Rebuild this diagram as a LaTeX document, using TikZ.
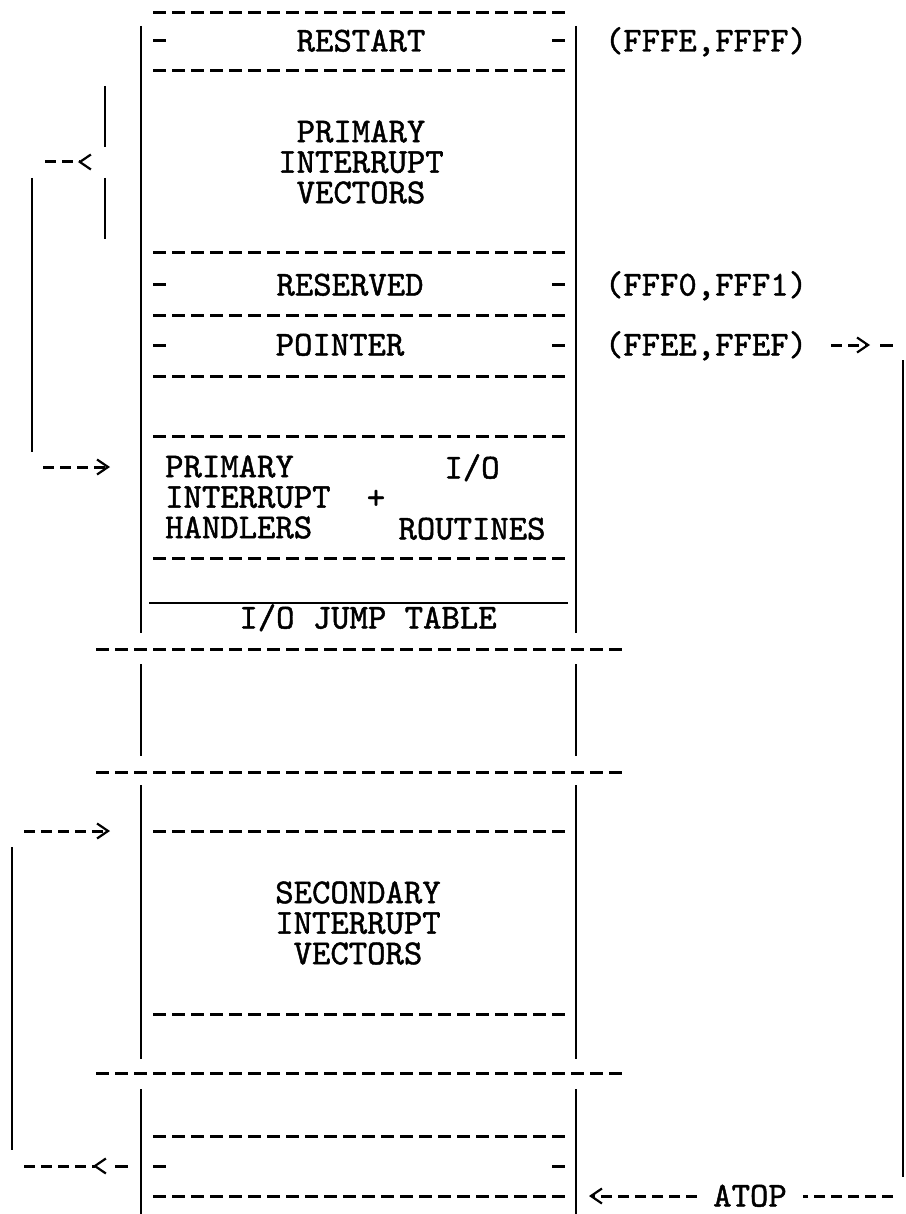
\documentclass[tikz,border=0pt]{standalone}
\usepackage{fontspec}
\setmonofont{lmmono10-regular.otf}[FakeBold=1.3]
\usetikzlibrary{arrows.meta, positioning}
\newcommand{\mapfont}{\fontsize{35}{30.5}\selectfont\ttfamily}

\begin{document}
\begin{tikzpicture}[
  x=1pt, y=-1pt,
  lbl/.style={font=\mapfont, inner sep=0pt, text height=21pt, text depth=0pt},
  blk/.style={font=\mapfont, inner sep=0pt, align=center},
  sep/.style={line width=3pt, dash pattern=on 13pt off 6pt},
  bar/.style={line width=2pt},
  conn/.style={line width=3pt, dash pattern=on 11pt off 6pt},
  fwd/.style={-{Straight Barb[length=11pt, width=15pt, line width=2.2pt]}},
  bwd/.style={-{Straight Barb[reversed, length=11pt, width=15pt, line width=2.2pt]}}
]
\useasboundingbox (0,0) rectangle (905,1214);

% walls of the map
\foreach \a/\b in {26/633, 664/756, 785/1059, 1089/1214} {
  \draw[bar] (141,\a) -- (141,\b);
  \draw[bar] (576,\a) -- (576,\b);
}
% rows
\foreach \y in {13,71,253,315,376,436,558,831,1014,1136,1196}
  \draw[sep] (153,\y) -- (566,\y);
\foreach \y in {649,772,1073}
  \draw[sep] (96,\y) -- (622,\y);
\foreach \y in {41,285,345,1166} {
  \draw[sep] (153,\y) -- (166,\y);
  \draw[sep] (552,\y) -- (565,\y);
}
\draw[line width=1.6pt] (149,603) -- (568,603);

% labels
\node[lbl] (restart)  at (361,41)  {RESTART};
\node[lbl] (addrA)    at (706,41)  {(FFFE,FFFF)};
\node[blk] (vecA)     at (361,162) {PRIMARY\\INTERRUPT\\VECTORS};
\node[lbl] (reserved) at (350,285) {RESERVED};
\node[lbl] (addrB)    at (706,285) {(FFF0,FFF1)};
\node[lbl] (pointer)  at (340,345) {POINTER};
\node[lbl] (addrC)    at (706,345) {(FFEE,FFEF)};
\node[blk, align=left, anchor=west] (hdl) at (165,497) {PRIMARY\\INTERRUPT\\HANDLERS};
\node[lbl] (plus)     at (376,498) {+};
\node[blk] (iortn)    at (472,497) {I/O\\[30.5pt]ROUTINES};
\node[lbl] (jump)     at (368,618) {I/O JUMP TABLE};
\node[blk] (vecB)     at (358,923) {SECONDARY\\INTERRUPT\\VECTORS};
\node[lbl, inner xsep=16pt] (atop) at (750,1196) {ATOP};

% primary vectors to handlers
\coordinate (brk)  at (92,162);
\coordinate (brkL) at (45,162);
\coordinate (hin)  at (110,467);
\draw[bar] (105,86) -- (105,147);
\draw[bar] (105,178) -- (105,239);
\draw[conn, bwd] (brkL) -- (brk);
\draw[bar] (32,178) -- (32,452);
\draw[conn, fwd] (43,467) -- (hin);

% pointer to ATOP
\coordinate (pout) at (870,345);
\coordinate (bot)  at (589,1196);
\draw[conn, fwd, shorten <=24pt] (addrC.east) -- (pout);
\draw[sep] (880,345) -- (893,345);
\draw[bar] (903,360) -- (903,1177);
\draw[conn] (893,1196) -- (atop.east);
\draw[conn, fwd] (atop.west) -- (bot);

% bottom entry to secondary vectors
\coordinate (eout) at (107,1166);
\coordinate (sin)  at (110,831);
\draw[sep] (115,1166) -- (128,1166);
\draw[conn, bwd] (24,1166) -- (eout);
\draw[bar] (12,847) -- (12,1150);
\draw[conn, fwd] (24,831) -- (sin);

\end{tikzpicture}
\end{document}
